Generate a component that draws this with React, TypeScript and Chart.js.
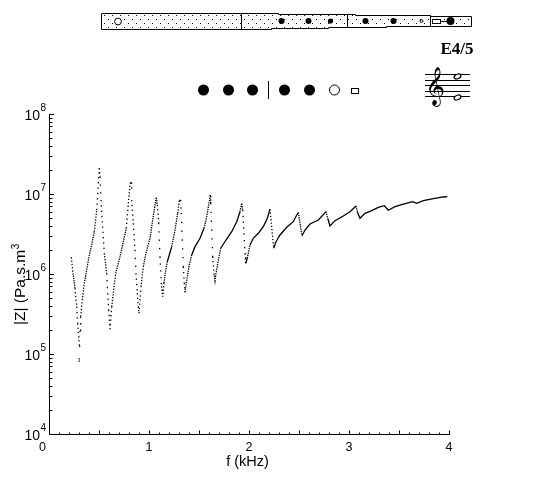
import React, { useEffect, useRef } from "react";
import { Chart, registerables } from "chart.js";

Chart.register(...registerables);

const frequencyKHz = [
  0.218, 0.235, 0.255, 0.272, 0.282, 0.295, 0.298, 0.305, 0.312, 0.328, 0.348, 0.372, 0.395, 0.422, 0.448, 0.472, 0.488, 0.498,
  0.505, 0.515, 0.528, 0.548, 0.572, 0.582, 0.592, 0.605, 0.622, 0.642, 0.662, 0.705, 0.738, 0.768, 0.788, 0.808, 0.82,
  0.822, 0.838, 0.855, 0.865, 0.878, 0.888, 0.895, 0.908, 0.915, 0.938, 0.965, 1.005, 1.032, 1.055, 1.068,
  1.078, 1.092, 1.105, 1.118, 1.132, 1.145, 1.158, 1.178, 1.222, 1.255, 1.282, 1.298, 1.312,
  1.318, 1.328, 1.338, 1.348, 1.355, 1.365, 1.378, 1.398, 1.422, 1.455, 1.505, 1.545, 1.572, 1.595, 1.608,
  1.612, 1.622, 1.632, 1.645, 1.655, 1.665, 1.685, 1.712, 1.765, 1.822, 1.872, 1.905, 1.922,
  1.932, 1.945, 1.955, 1.962, 1.978, 2.005, 2.038, 2.088, 2.138, 2.178, 2.205,
  2.215, 2.228, 2.242, 2.265, 2.305, 2.372, 2.438, 2.472, 2.488,
  2.505, 2.525, 2.555, 2.605, 2.688, 2.735, 2.765, 2.782, 2.805, 2.855, 2.938, 3.005, 3.065,
  3.078, 3.105, 3.155, 3.222, 3.288, 3.348, 3.388, 3.455, 3.538, 3.632, 3.672, 3.738, 3.838, 3.938, 3.978,
];
const log10Impedance = [
  6.215, 6.015, 5.828, 5.598, 5.39, 5.181, 4.91, 5.306, 5.473, 5.681, 5.89, 6.056, 6.223, 6.369, 6.535, 6.806, 7.14, 7.328,
  7.223, 6.931, 6.66, 6.265, 6.015, 5.765, 5.556, 5.315, 5.598, 5.806, 6.015, 6.223, 6.41, 6.578, 6.89, 7.148, 7.148,
  6.931, 6.64, 6.306, 6.015, 5.765, 5.598, 5.515, 5.723, 5.848, 6.098, 6.269, 6.453, 6.681, 6.869, 6.965,
  6.869, 6.644, 6.223, 5.894, 5.723, 5.894, 6.019, 6.16, 6.348, 6.556, 6.765, 6.923, 6.931,
  6.769, 6.431, 6.098, 5.894, 5.778, 5.869, 5.973, 6.119, 6.244, 6.348, 6.453, 6.578, 6.723, 6.89, 6.994,
  6.894, 6.556, 6.223, 6.015, 5.923, 6.015, 6.16, 6.328, 6.431, 6.535, 6.66, 6.785, 6.89,
  6.806, 6.515, 6.265, 6.14, 6.203, 6.369, 6.453, 6.515, 6.598, 6.703, 6.815,
  6.681, 6.515, 6.328, 6.41, 6.494, 6.59, 6.66, 6.744, 6.773,
  6.64, 6.485, 6.556, 6.631, 6.681, 6.744, 6.785, 6.703, 6.606, 6.673, 6.731, 6.785, 6.856,
  6.785, 6.703, 6.765, 6.798, 6.84, 6.86, 6.803, 6.848, 6.881, 6.91, 6.89, 6.923, 6.948, 6.969, 6.973,
];
const xTickLabels = ["0", "1", "2", "3", "4"];
const yTickExponents = ["4", "5", "6", "7", "8"];
const xTitle = "f (kHz)";
const yTitle = "|Z| (Pa.s.m";
const yTitleExponent = "3";
const noteName = "E4/5";
const fingering = ["closed", "closed", "closed", "bar", "closed", "closed", "open", "key"];

const SANS = '"Liberation Sans", Arial, sans-serif';

function disc(c: CanvasRenderingContext2D, x: number, y: number, r: number, filled: boolean) {
  c.beginPath();
  c.arc(x, y, r, 0, Math.PI * 2);
  if (filled) c.fill();
  else {
    c.fillStyle = "#fff";
    c.fill();
    c.fillStyle = "#000";
    c.stroke();
  }
}

function drawFlute(c: CanvasRenderingContext2D) {
  const outline: [number, number][] = [
    [101.5, 13.5], [278.5, 13.5], [278.5, 14.5], [355.5, 14.5], [355.5, 15.5], [430.5, 15.5], [430.5, 16.5], [471.5, 16.5],
    [471.5, 26.5], [386.5, 26.5], [386.5, 27.5], [328.5, 27.5], [328.5, 28.5], [271.5, 28.5], [271.5, 29.5], [101.5, 29.5],
  ];
  c.beginPath();
  outline.forEach(([x, y], i) => (i ? c.lineTo(x, y) : c.moveTo(x, y)));
  c.closePath();
  c.stroke();
  c.save();
  c.clip();
  c.fillStyle = "#000";
  for (let row = 0; row < 4; row++) {
    const y = 15 + row * 4;
    for (let x = 104 + (row % 2) * 4; x < 472; x += 8) c.fillRect(Math.round(x), y, 1, 1);
  }
  c.restore();
  [241.5, 347.5, 430.5].forEach((x) => {
    c.beginPath();
    c.moveTo(x, x < 300 ? 13.5 : 15);
    c.lineTo(x, x < 300 ? 29.5 : 27);
    c.stroke();
  });
  disc(c, 118, 21.5, 3.4, false);
  [281.5, 308.5, 365.5, 393.5].forEach((x) => disc(c, x, 21, 3, true));
  disc(c, 330.5, 21, 2.6, true);
  disc(c, 421.5, 21, 1.4, false);
  c.strokeRect(432.5, 19.5, 8, 4);
  c.beginPath();
  c.moveTo(440.5, 21.5);
  c.lineTo(447, 21.5);
  c.stroke();
  disc(c, 450.5, 21, 4, true);
}

function drawFingering(c: CanvasRenderingContext2D) {
  const xs = [203.5, 228.5, 252.5, 268.5, 284.5, 309.5, 334.5, 355];
  fingering.forEach((kind, i) => {
    const x = xs[i];
    if (kind === "closed") disc(c, x, 90, 5.5, true);
    if (kind === "open") disc(c, x, 90, 5, false);
    if (kind === "bar") {
      c.beginPath();
      c.moveTo(x, 81);
      c.lineTo(x, 99);
      c.stroke();
    }
    if (kind === "key") c.strokeRect(351.5, 88.5, 7, 5);
  });
}

function drawStaff(c: CanvasRenderingContext2D) {
  c.font = 'bold 17px "Liberation Serif", serif';
  c.textAlign = "left";
  c.textBaseline = "alphabetic";
  c.fillText(noteName, 440.5, 54);
  [74.5, 80.5, 85.5, 91.5, 96.5].forEach((y) => {
    c.beginPath();
    c.moveTo(425, y);
    c.lineTo(470, y);
    c.stroke();
  });
  c.font = '34px "DejaVu Sans"';
  c.fillText("\u{1D11E}", 425, 97);
  [76.5, 97.5].forEach((y) => {
    c.save();
    c.translate(457.5, y);
    c.rotate(-0.45);
    c.beginPath();
    c.ellipse(0, 0, 3.6, 2.2, 0, 0, Math.PI * 2);
    c.fillStyle = "#fff";
    c.fill();
    c.lineWidth = 1.2;
    c.stroke();
    c.restore();
  });
}

const decoration = {
  id: "decoration",
  afterDraw(chart: any) {
    const c: CanvasRenderingContext2D = chart.ctx;
    const x = chart.scales.x;
    const y = chart.scales.y;
    c.save();
    c.setLineDash([]);
    c.fillStyle = "#000";
    c.strokeStyle = "#000";
    c.lineWidth = 1;

    c.beginPath();
    for (let i = 0; i <= 40; i++) {
      const px = Math.floor(x.getPixelForValue(i / 10)) + 0.5;
      const len = i % 5 === 0 ? 4 : 2;
      c.moveTo(px, y.bottom);
      c.lineTo(px, y.bottom - len);
    }
    yTickExponents.forEach((e, d) => {
      for (let m = 1; m <= 9; m++) {
        if (d === yTickExponents.length - 1 && m > 1) break;
        const py = Math.floor(y.getPixelForValue(m * Math.pow(10, Number(e)))) + 0.5;
        c.moveTo(x.left, py);
        c.lineTo(x.left + (m === 1 ? 4.5 : 3), py);
      }
    });
    c.stroke();

    c.textBaseline = "alphabetic";
    c.font = `12.5px ${SANS}`;
    c.textAlign = "center";
    xTickLabels.forEach((label, i) => {
      const shift = i === 0 ? -7 : -0.5;
      c.fillText(label, x.getPixelForValue(Number(label)) + shift, 451);
    });
    c.font = `14.5px ${SANS}`;
    c.fillText(xTitle, 247.5, 466);

    yTickExponents.forEach((e) => {
      const py = y.getPixelForValue(Math.pow(10, Number(e)));
      c.textAlign = "right";
      c.font = `14px ${SANS}`;
      c.fillText("10", 40, py + 5);
      c.textAlign = "left";
      c.font = `10px ${SANS}`;
      c.fillText(e, 40.5, py - 4);
    });

    c.save();
    c.translate(25, 325);
    c.rotate(-Math.PI / 2);
    c.textAlign = "left";
    c.font = `15.5px ${SANS}`;
    c.fillText(yTitle, 0, 0);
    const w = c.measureText(yTitle).width;
    c.font = `10px ${SANS}`;
    c.fillText(yTitleExponent, w + 0.5, -6);
    c.restore();

    drawFlute(c);
    drawFingering(c);
    drawStaff(c);
    c.restore();
  },
};

export default function App() {
  const ref = useRef<HTMLCanvasElement | null>(null);
  useEffect(() => {
    if (!ref.current) return;
    const chart = new Chart(ref.current, {
      type: "line",
      data: {
        datasets: [
          {
            label: "|Z|",
            data: frequencyKHz.map((f, i) => ({ x: f, y: Math.pow(10, log10Impedance[i]) })),
            borderColor: "#000",
            borderWidth: 1.3,
            pointRadius: 0,
            tension: 0,
            fill: false,
            segment: {
              borderDash: (ctx: any) => {
                const slope = Math.abs(ctx.p1.y - ctx.p0.y) / Math.max(0.05, Math.abs(ctx.p1.x - ctx.p0.x));
                if (slope < 3.6) return undefined;
                return [1.3, Math.max(1, Math.round((slope * 0.33 - 1.3) * 2) / 2)];
              },
            },
          },
        ],
      },
      plugins: [decoration],
      options: {
        animation: false,
        responsive: false,
        layout: { padding: { left: 49.5, right: 110.5, top: 114.5, bottom: 45.5 } },
        plugins: { legend: { display: false }, tooltip: { enabled: false }, title: { display: false } },
        scales: {
          x: {
            type: "linear",
            min: 0,
            max: 4,
            ticks: { display: false },
            grid: { display: false, drawTicks: false },
            border: { display: true, color: "#000", width: 1 },
          },
          y: {
            type: "logarithmic",
            min: 1e4,
            max: 1e8,
            ticks: { display: false },
            grid: { display: false, drawTicks: false },
            border: { display: true, color: "#000", width: 1 },
          },
        },
      },
    } as any);
    return () => chart.destroy();
  }, []);
  return (
    <div style={{ position: "fixed", left: 0, top: 0, width: 560, height: 480, background: "#fff" }}>
      <canvas ref={ref} width={560} height={480} style={{ display: "block" }} />
    </div>
  );
}
